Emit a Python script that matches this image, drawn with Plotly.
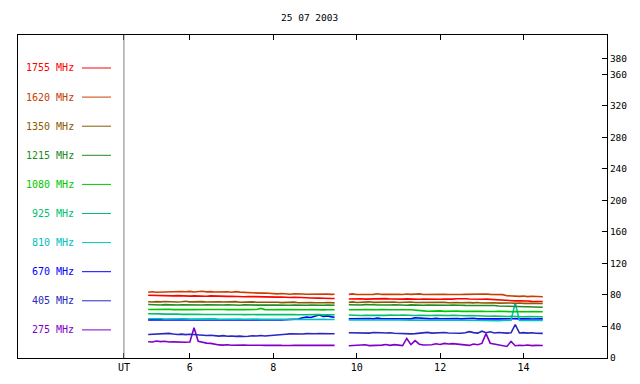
import plotly.graph_objects as go

# ---- time axis (UT hours) ----
t_am = [5.0, 5.1, 5.2, 5.3, 5.4, 5.5, 5.6, 5.7, 5.8, 5.9,
        6.0, 6.1, 6.2, 6.3, 6.4, 6.5, 6.6, 6.7, 6.8, 6.9,
        7.0, 7.1, 7.2, 7.3, 7.4, 7.5, 7.6, 7.7, 7.8, 7.9,
        8.0, 8.1, 8.2, 8.3, 8.4, 8.5, 8.6, 8.7, 8.8, 8.9,
        9.0, 9.1, 9.2, 9.3, 9.4, 9.47]
t_pm = [9.81, 9.9, 10.0, 10.1, 10.2, 10.3, 10.4, 10.5, 10.6, 10.7,
        10.8, 10.9, 11.0, 11.1, 11.2, 11.3, 11.4, 11.5, 11.6, 11.7,
        11.8, 11.9, 12.0, 12.1, 12.2, 12.3, 12.4, 12.5, 12.6, 12.7,
        12.8, 12.9, 13.0, 13.1, 13.2, 13.3, 13.4, 13.5, 13.6, 13.7,
        13.8, 13.9, 14.0, 14.1, 14.2, 14.3, 14.4, 14.46]

# ---- channel values (morning segment, afternoon segment) ----
f1755_am = [79.7, 79.5, 79.2, 79.0, 79.3, 78.8, 78.9, 79.2, 78.7, 79.0,
            78.6, 78.9, 78.5, 78.7, 78.4, 78.8, 78.5, 78.3, 78.6, 78.2,
            78.4, 78.0, 78.3, 77.8, 78.1, 77.9, 78.0, 77.6, 77.8, 77.5,
            77.7, 77.3, 77.5, 77.0, 76.8, 77.1, 76.6, 76.9, 76.4, 76.2,
            76.5, 76.0, 75.8, 76.1, 75.6, 75.5]
f1755_pm = [74.8, 75.0, 74.6, 75.2, 74.7, 74.9, 74.6, 75.0, 74.7, 75.4,
            74.8, 74.6, 74.9, 74.7, 75.1, 74.6, 74.8, 74.5, 74.9, 74.7,
            74.6, 74.8, 74.5, 74.9, 74.6, 74.7, 75.3, 75.5, 75.2, 74.9,
            74.6, 74.8, 74.5, 74.7, 74.3, 73.9, 74.1, 73.5, 73.0, 72.8,
            72.5, 72.7, 72.1, 72.4, 71.9, 72.2, 71.8, 71.7]

f1620_am = [83.5, 84.0, 83.5, 83.8, 84.2, 83.6, 84.0, 85.0, 84.5, 84.0,
            84.6, 83.8, 84.2, 84.8, 83.9, 84.3, 83.7, 84.0, 83.5, 84.1,
            83.4, 84.2, 83.6, 83.2, 83.5, 82.6, 82.8, 82.3, 82.5, 82.0,
            81.6, 81.4, 81.8, 81.2, 81.0, 81.5, 81.0, 81.3, 81.0, 81.2,
            80.9, 81.4, 81.0, 81.1, 80.8, 81.0]
f1620_pm = [80.8, 81.4, 80.6, 80.9, 81.2, 80.6, 80.8, 81.5, 80.7, 80.9,
            81.3, 80.6, 80.8, 80.6, 81.2, 80.7, 80.9, 81.4, 80.6, 80.8,
            80.5, 81.2, 80.7, 80.9, 80.6, 80.8, 81.3, 80.6, 80.7, 80.9,
            80.5, 80.8, 80.6, 81.2, 80.7, 80.5, 80.8, 80.4, 79.0, 78.5,
            78.8, 78.2, 78.6, 77.9, 78.4, 77.8, 78.0, 77.7]

f1350_am = [71.4, 71.0, 71.6, 71.2, 71.8, 71.3, 71.5, 71.0, 71.4, 72.0,
            71.2, 71.6, 71.1, 71.5, 71.0, 71.3, 70.8, 71.4, 71.0, 71.2,
            70.9, 71.5, 70.8, 71.1, 70.6, 71.2, 70.7, 70.9, 70.5, 71.0,
            70.6, 70.8, 70.3, 70.7, 70.4, 70.9, 70.2, 70.6, 70.3, 70.5,
            70.1, 70.6, 70.2, 70.4, 70.0, 70.0]
f1350_pm = [70.6, 71.2, 70.4, 70.9, 70.5, 71.3, 70.6, 70.8, 70.3, 70.9,
            70.5, 71.1, 70.4, 70.7, 70.3, 71.0, 70.5, 70.6, 70.2, 70.8,
            70.4, 70.9, 70.3, 70.6, 70.2, 70.7, 70.4, 70.1, 70.6, 70.3,
            70.0, 70.5, 69.9, 70.3, 69.8, 70.2, 69.7, 69.9, 69.5, 69.8,
            69.4, 69.9, 69.3, 69.6, 69.2, 69.5, 69.1, 69.2]

f1215_am = [67.9, 67.5, 67.8, 67.3, 67.7, 67.4, 67.8, 67.2, 67.6, 67.4,
            67.9, 67.3, 67.5, 67.2, 67.6, 67.4, 67.1, 67.5, 67.3, 67.6,
            67.2, 67.4, 67.0, 67.5, 67.2, 67.4, 67.1, 67.3, 67.0, 67.4,
            67.1, 67.2, 66.9, 67.3, 67.0, 67.2, 66.8, 67.1, 66.9, 67.2,
            66.8, 67.0, 66.9, 67.1, 66.8, 67.0]
f1215_pm = [67.5, 67.2, 67.6, 67.3, 67.7, 67.2, 67.5, 67.3, 67.0, 67.4,
            67.2, 67.5, 67.1, 67.3, 67.0, 67.4, 67.1, 67.3, 66.9, 67.2,
            67.0, 67.3, 66.8, 67.1, 66.9, 67.2, 66.7, 67.0, 66.8, 66.9,
            66.6, 66.8, 66.5, 66.9, 66.4, 66.6, 66.0, 65.8, 65.5, 65.7,
            65.2, 65.4, 64.9, 65.1, 64.7, 64.9, 64.6, 64.5]

f1080_am = [61.6, 61.8, 61.4, 61.7, 61.5, 61.9, 61.4, 61.6, 61.3, 61.8,
            61.5, 61.4, 61.7, 61.3, 61.6, 61.5, 61.8, 61.3, 61.5, 61.4,
            61.7, 61.3, 61.5, 61.4, 61.6, 61.3, 61.5, 63.0, 61.4, 61.3,
            61.6, 61.2, 61.4, 61.5, 61.3, 61.6, 61.2, 61.4, 61.3, 61.5,
            61.2, 61.4, 61.1, 61.3, 61.2, 61.2]
f1080_pm = [61.3, 61.0, 61.4, 61.2, 61.5, 61.1, 61.3, 61.2, 61.4, 61.0,
            61.3, 61.2, 61.5, 61.1, 61.3, 61.2, 61.0, 60.4, 59.8, 59.3,
            59.6, 59.1, 59.8, 59.2, 59.5, 59.0, 59.6, 59.2, 59.4, 59.0,
            59.7, 59.1, 59.3, 59.0, 59.5, 59.1, 59.3, 58.9, 59.2, 58.8,
            59.0, 58.7, 59.1, 58.8, 58.9, 58.6, 58.8, 58.7]

f925_am = [56.1, 56.3, 55.9, 56.0, 55.7, 55.9, 55.5, 55.8, 55.4, 55.6,
           55.3, 55.5, 55.6, 55.2, 55.4, 55.3, 55.6, 55.1, 55.3, 55.2,
           55.5, 55.1, 55.3, 55.0, 55.2, 55.4, 55.0, 55.2, 55.1, 55.3,
           55.0, 55.2, 54.9, 55.1, 55.0, 55.3, 54.9, 55.1, 54.8, 55.0,
           54.9, 55.2, 54.8, 55.0, 54.9, 54.9]
f925_pm = [54.6, 54.2, 54.5, 54.0, 54.3, 54.1, 54.5, 54.0, 54.2, 54.1,
           54.4, 54.0, 54.2, 54.5, 54.1, 54.3, 54.0, 54.2, 53.9, 54.4,
           54.0, 54.2, 53.8, 54.1, 53.9, 54.3, 53.8, 54.0, 53.7, 53.9,
           53.6, 53.8, 53.4, 53.3, 53.0, 53.2, 52.8, 52.9, 52.6, 52.8,
           52.5, 52.7, 52.4, 52.6, 52.3, 52.5, 52.2, 52.3]

f810_am = [49.8, 50.0, 49.6, 49.9, 49.5, 49.7, 49.4, 49.8, 49.5, 49.6,
           49.3, 49.5, 49.7, 49.3, 49.5, 49.4, 49.6, 49.2, 49.4, 49.3,
           49.5, 49.1, 49.3, 49.2, 49.4, 49.1, 49.3, 49.0, 49.2, 49.1,
           49.3, 49.0, 49.2, 48.9, 49.1, 49.0, 49.2, 48.9, 49.0, 48.8,
           49.1, 48.9, 49.0, 48.8, 48.9, 48.9]
f810_pm = [48.4, 48.6, 48.2, 48.5, 48.3, 48.1, 48.4, 48.2, 48.5, 48.1,
           48.3, 48.2, 48.4, 48.0, 48.3, 48.1, 48.2, 47.9, 48.2, 48.0,
           48.3, 47.9, 48.1, 48.0, 48.2, 47.8, 48.1, 47.9, 48.0, 47.8,
           48.1, 47.9, 48.0, 47.6, 47.2, 47.5, 47.3, 47.8, 47.6, 47.9,
           70.0, 47.7, 47.6, 47.8, 47.5, 47.7, 47.6, 47.7]

f670_am = [48.4, 48.6, 48.3, 48.5, 48.2, 48.4, 48.6, 48.3, 48.5, 48.2,
           48.4, 48.3, 48.5, 48.2, 48.4, 48.3, 48.6, 48.2, 48.4, 48.3,
           48.5, 48.2, 48.4, 48.3, 48.5, 48.2, 48.4, 48.3, 48.2, 48.4,
           48.3, 48.5, 48.4, 48.6, 48.6, 48.8, 49.5, 51.2, 52.0, 51.5,
           53.0, 54.5, 52.8, 53.5, 52.2, 51.8]
f670_pm = [49.8, 50.0, 49.7, 50.3, 49.8, 50.1, 49.7, 50.6, 49.9, 49.8,
           50.4, 49.7, 50.0, 49.8, 50.2, 49.7, 51.0, 50.4, 49.8, 50.0,
           49.7, 50.3, 49.8, 50.1, 49.7, 49.9, 50.2, 49.7, 50.0, 49.8,
           50.4, 49.7, 49.9, 49.8, 50.1, 49.6, 49.9, 49.7, 50.0, 49.6,
           49.8, 49.6, 50.1, 49.7, 49.5, 49.8, 49.6, 49.7]

f405_am = [29.9, 30.2, 29.6, 30.0, 30.8, 31.2, 30.4, 29.8, 30.3, 29.7,
           30.1, 29.5, 29.2, 28.8, 28.5, 28.9, 28.2, 27.8, 28.4, 27.6,
           28.0, 27.4, 27.8, 27.2, 27.6, 28.3, 27.9, 28.5, 28.0, 28.6,
           29.0, 29.8, 30.4, 30.2, 30.6, 30.3, 30.8, 30.5, 30.9, 30.4,
           30.7, 31.0, 30.6, 30.8, 30.7, 30.8]
f405_pm = [32.0, 31.8, 32.2, 31.7, 32.0, 31.6, 32.4, 31.8, 32.0, 31.7,
           32.1, 31.5, 31.2, 30.8, 30.3, 30.6, 30.9, 31.3, 31.8, 32.5,
           31.6, 31.9, 31.4, 32.3, 31.7, 31.5, 31.9, 31.4, 32.0, 33.5,
           32.2, 31.6, 34.0, 32.1, 33.2, 31.8, 32.4, 31.9, 31.6, 32.0,
           42.5, 31.8, 32.2, 31.6, 32.0, 31.4, 31.8, 31.2]

f275_am = [20.6, 20.4, 21.5, 20.8, 21.2, 20.3, 20.5, 20.1, 20.4, 20.0,
           20.3, 38.5, 21.2, 19.8, 18.9, 18.6, 17.2, 16.6, 16.3, 16.8,
           16.2, 16.5, 16.0, 16.3, 16.1, 16.4, 15.9, 16.2, 16.0, 16.3,
           15.9, 16.2, 16.0, 16.4, 15.9, 16.1, 16.0, 16.3, 15.8, 16.2,
           16.0, 16.3, 15.9, 16.1, 16.0, 16.0]
f275_pm = [15.6, 15.8, 15.5, 15.9, 16.8, 15.7, 15.9, 15.6, 16.4, 17.2,
           16.0, 17.0, 16.2, 15.8, 24.8, 17.0, 22.0, 17.5, 16.5, 16.2,
           16.8, 18.0, 17.2, 18.5, 17.8, 18.2, 17.5, 16.6, 16.2, 16.0,
           17.8, 16.8, 18.5, 31.0, 18.8, 17.6, 16.2, 15.0, 14.7, 21.0,
           15.6, 16.2, 15.8, 16.4, 15.7, 16.0, 15.6, 15.8]

channel_labels = ["1755 MHz", "1620 MHz", "1350 MHz", "1215 MHz", "1080 MHz",
                  "925 MHz", "810 MHz", "670 MHz", "405 MHz", "275 MHz"]
channel_colors = ["#ff0000", "#c84000", "#8c5a00", "#228b22", "#00c800",
                  "#00c070", "#00c0c0", "#0000ff", "#2828c0", "#8000c8"]
channel_data = [(f1755_am, f1755_pm), (f1620_am, f1620_pm), (f1350_am, f1350_pm),
                (f1215_am, f1215_pm), (f1080_am, f1080_pm), (f925_am, f925_pm),
                (f810_am, f810_pm), (f670_am, f670_pm), (f405_am, f405_pm),
                (f275_am, f275_pm)]

x_ticks = [4.42, 6, 8, 10, 12, 14]
x_ticktext = ["UT", "6", "8", "10", "12", "14"]
y_ticks = [0, 40, 80, 120, 160, 200, 240, 280, 320, 360, 380]

FONT = "DejaVu Sans Mono"
times = t_am + [None] + t_pm

fig = go.Figure()
order = [9, 8, 7, 6, 5, 4, 3, 2, 1, 0]
for i in order:
    am, pm = channel_data[i]
    fig.add_trace(go.Scatter(
        x=times, y=am + [None] + pm, mode="lines",
        line=dict(color=channel_colors[i], width=1.6),
        connectgaps=False, showlegend=False, hoverinfo="skip"))

# page layout (the page body has an 8px margin)
FIG_W, FIG_H = 632, 376
L, W, T, H = 18, 589, 35, 323   # plot area in page pixels
OFF = 8

def px(x):
    return (x - L) / W

def py(y):
    return (T + H - y) / H

shapes = []
annotations = []
for k, (lab, col) in enumerate(zip(channel_labels, channel_colors)):
    yy = 68 + 29.1 * k
    annotations.append(dict(x=px(76), y=py(yy), xref="paper", yref="paper",
                            text=lab, showarrow=False, xanchor="right", yanchor="middle",
                            font=dict(family=FONT, size=10, color=col)))
    shapes.append(dict(type="line", xref="paper", yref="paper",
                       x0=px(82), x1=px(111), y0=py(yy), y1=py(yy),
                       line=dict(color=col, width=1)))

shapes.append(dict(type="line", xref="x", yref="paper", x0=4.42, x1=4.42, y0=0, y1=1,
                   line=dict(color="#808080", width=1)))

annotations.append(dict(x=px(309), y=py(17), xref="paper", yref="paper", text="25 07 2003",
                        showarrow=False, xanchor="center", yanchor="middle",
                        font=dict(family=FONT, size=9.5, color="black")))

fig.update_layout(
    width=FIG_W, height=FIG_H,
    margin=dict(l=L - OFF, r=FIG_W - (L - OFF) - W, t=T - OFF, b=FIG_H - (T - OFF) - H),
    paper_bgcolor="white", plot_bgcolor="white",
    font=dict(family=FONT, size=10, color="black"),
    shapes=shapes, annotations=annotations,
    xaxis=dict(range=[1.88, 16.0], tickvals=x_ticks, ticktext=x_ticktext,
               ticks="inside", ticklen=5, tickcolor="black", showline=True,
               linecolor="black", linewidth=1, mirror="ticks", showgrid=False,
               zeroline=False, tickfont=dict(family=FONT, size=10)),
    yaxis=dict(range=[0, 410], side="right", tickvals=y_ticks,
               ticks="inside", ticklen=5, tickcolor="black", showline=True,
               linecolor="black", linewidth=1, mirror=True, showgrid=False,
               zeroline=False, tickfont=dict(family=FONT, size=9.5)),
)

fig.write_html("out.html")
